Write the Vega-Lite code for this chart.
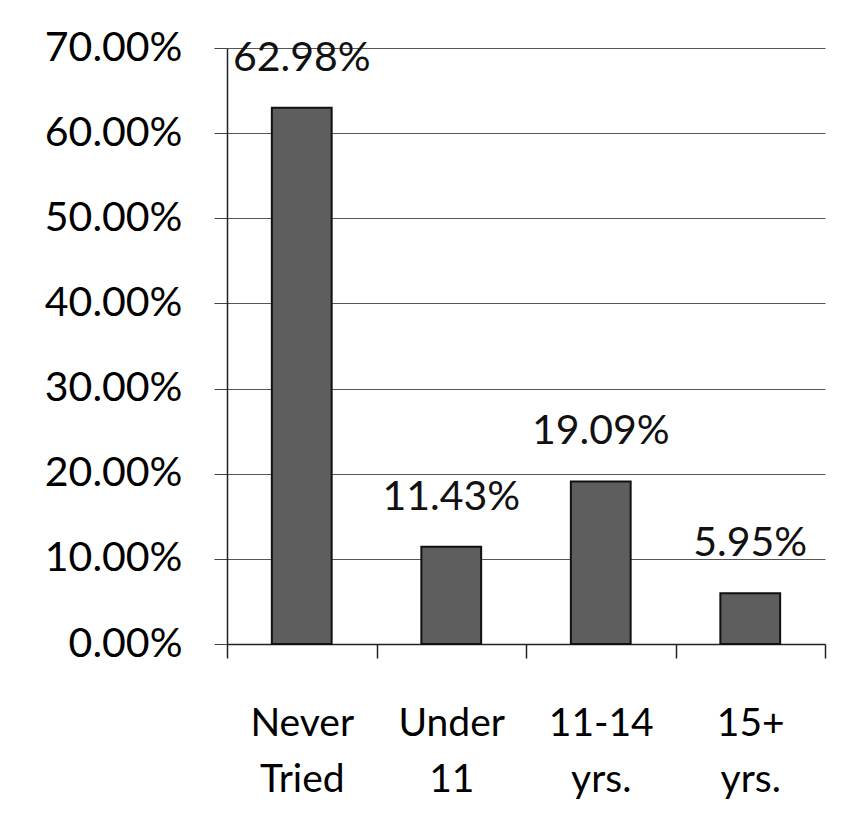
{
  "$schema": "https://vega.github.io/schema/vega-lite/v6.json",
  "autosize": {"type": "none"},
  "padding": {"left": 227, "top": 48, "right": 21, "bottom": 186},
  "width": 598,
  "height": 596,
  "background": "white",
  "config": {
    "font": "Lato",
    "view": {"stroke": null}
  },
  "data": {
    "values": [
      {"category": "Never Tried", "value": 0.6298},
      {"category": "Under 11", "value": 0.1143},
      {"category": "11-14 yrs.", "value": 0.1909},
      {"category": "15+ yrs.", "value": 0.0595}
    ]
  },
  "encoding": {
    "x": {
      "field": "category",
      "type": "nominal",
      "sort": null,
      "scale": {"paddingInner": 0, "paddingOuter": 0},
      "axis": {
        "title": null,
        "labelAngle": 0,
        "labelFontSize": 39,
        "labelColor": "#000",
        "labelExpr": "split(datum.label, ' ')",
        "labelLineHeight": 56,
        "labelPadding": 46,
        "labelBaseline": "top",
        "tickBand": "extent",
        "tickSize": 14,
        "tickColor": "#222",
        "tickWidth": 1.5,
        "domainColor": "#222",
        "domainWidth": 1.5,
        "grid": false
      }
    },
    "y": {
      "field": "value",
      "type": "quantitative",
      "scale": {"domain": [0, 0.7], "nice": false},
      "axis": {
        "title": null,
        "format": ".2%",
        "values": [0, 0.1, 0.2, 0.3, 0.4, 0.5, 0.6, 0.7],
        "labelFontSize": 41,
        "labelColor": "#000",
        "labelPadding": 32,
        "tickSize": 13,
        "tickColor": "#444",
        "domainColor": "#222",
        "domainWidth": 1.5,
        "grid": true,
        "gridColor": "#555",
        "gridWidth": 1
      }
    }
  },
  "layer": [
    {
      "mark": {"type": "bar", "width": {"band": 0.4}, "fill": "#5e5e5e", "stroke": "#111", "strokeWidth": 2}
    },
    {
      "mark": {"type": "text", "baseline": "bottom", "dy": -28, "fontSize": 41, "color": "#111"},
      "encoding": {
        "text": {"field": "value", "type": "quantitative", "format": ".2%"}
      }
    }
  ]
}
